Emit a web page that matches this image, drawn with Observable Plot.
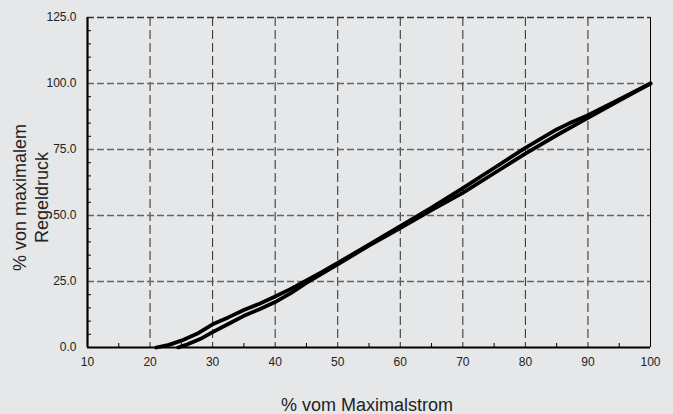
<!DOCTYPE html>
<html>
<head>
<meta charset="utf-8">
<script src="https://cdn.jsdelivr.net/npm/d3@7"></script>
<script src="https://cdn.jsdelivr.net/npm/@observablehq/plot@0.6"></script>
<style>
  html, body { margin: 0; padding: 0; background: #e6e7e8; }
</style>
</head>
<body>
<div id="chart"></div>
<script>
// Rising branch (starts at ~21 %)
const upperX = [21, 23, 25, 27.5, 30, 32.5, 35, 37.5, 40, 42.5, 45, 47.5, 50, 55, 60, 65, 70, 75, 80, 85, 87, 90, 95, 100];
const upperY = [0, 1, 2.6, 5.2, 8.8, 11.4, 14.2, 16.6, 19.3, 22.2, 25.4, 28.6, 32, 39, 46, 53, 60.4, 68, 75.6, 82.6, 84.9, 88, 94, 100];
// Falling branch (starts at ~24.5 %)
const lowerX = [24.5, 26, 28, 30, 32.5, 35, 37.5, 40, 42.5, 45, 47.5, 50, 55, 60, 65, 70, 75, 80, 85, 90, 95, 100];
const lowerY = [0, 1.2, 3.2, 5.8, 8.9, 12, 14.5, 17.2, 20.6, 24.5, 28, 31.5, 38.6, 45.2, 52, 58.6, 66, 73.4, 80.4, 87, 93.5, 100];

const xTicks = [10, 20, 30, 40, 50, 60, 70, 80, 90, 100];
const yTicks = [0, 25, 50, 75, 100, 125];
const yGrid = [25, 50, 75, 100];
const yTop = [125];
const xMinor = [15, 25, 35, 45, 55, 65, 75, 85, 95];
const yMinor = [5, 10, 15, 20, 30, 35, 40, 45, 55, 60, 65, 70, 80, 85, 90, 95, 105, 110, 115, 120];

const xTitle = "% vom Maximalstrom";
const yTitle = "% von maximalem\nRegeldruck";

const upper = upperX.map((x, i) => ({x, y: upperY[i]}));
const lower = lowerX.map((x, i) => ({x, y: lowerY[i]}));

const FONT = "'Liberation Sans', Arial, sans-serif";
const fmtY = d3.format(".1f");

const chart = Plot.plot({
  width: 673,
  height: 414,
  marginLeft: 87,
  marginRight: 23,
  marginTop: 17,
  marginBottom: 67,
  style: {
    fontFamily: FONT,
    background: "#e6e7e8",
    color: "#222"
  },
  x: {domain: [10, 100], axis: null},
  y: {domain: [0, 125], axis: null},
  marks: [
    Plot.gridX(xTicks, {stroke: "#2a2a2a", strokeOpacity: 1, strokeWidth: 1, strokeDasharray: "9,4"}),
    Plot.gridY(yGrid, {stroke: "#666", strokeOpacity: 1, strokeWidth: 1.6, strokeDasharray: "7,3"}),
    Plot.gridY(yTop, {stroke: "#333", strokeOpacity: 1, strokeWidth: 1.6, strokeDasharray: "7,3"}),
    Plot.tickX(xMinor, {x: d => d, stroke: "#000", strokeWidth: 1, insetTop: 326}),
    Plot.tickY(yMinor, {y: d => d, stroke: "#000", strokeWidth: 1, insetRight: 559}),
    Plot.ruleX([100], {stroke: "#000", strokeWidth: 1}),
    Plot.ruleX([10], {stroke: "#000", strokeWidth: 2.2}),
    Plot.ruleY([0], {stroke: "#000", strokeWidth: 2.2}),
    Plot.text(xTicks, {x: d => d, text: d => String(d), frameAnchor: "bottom", textAnchor: "middle", lineAnchor: "top", dy: 10, fontSize: 12, fontFamily: FONT, fill: "#222"}),
    Plot.text(yTicks, {y: d => d, text: d => fmtY(d), frameAnchor: "left", textAnchor: "end", lineAnchor: "middle", dx: -11, fontSize: 12, fontFamily: FONT, fill: "#222"}),
    Plot.line(upper, {x: "x", y: "y", stroke: "#000", strokeWidth: 3.8, strokeLinejoin: "round", strokeLinecap: "round"}),
    Plot.line(lower, {x: "x", y: "y", stroke: "#000", strokeWidth: 3.8, strokeLinejoin: "round", strokeLinecap: "round"}),
    Plot.text([xTitle], {text: d => d, frameAnchor: "bottom", textAnchor: "middle", dy: 63, dx: -2, fontSize: 18, fontFamily: FONT, fill: "#222"}),
    Plot.text([yTitle], {text: d => d, frameAnchor: "left", textAnchor: "middle", rotate: -90, dx: -58, dy: 15, fontSize: 18, fontFamily: FONT, lineHeight: 1.22, fill: "#222"})
  ]
});
document.getElementById("chart").append(chart);
</script>
</body>
</html>
